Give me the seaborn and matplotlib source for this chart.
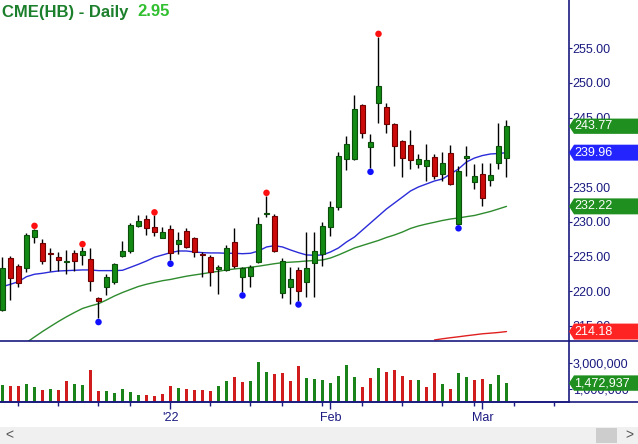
import numpy as np
import seaborn as sns
import matplotlib.pyplot as plt
import matplotlib.transforms as mtrans
import matplotlib.ticker as mticker
from matplotlib.patches import Polygon, Rectangle
from matplotlib.lines import Line2D

# daily candles, index 0 = 2 Dec 2021 ... 63 = 4 Mar 2022
opens = [217.29, 224.74, 223.63, 223.30, 227.85, 226.90, 225.45, 224.89, 224.20, 225.46,
         225.22, 224.60, 218.98, 220.65, 221.37, 225.12, 225.84, 229.44, 230.36, 229.21,
         227.71, 228.92, 226.76, 228.72, 227.62, 225.30, 224.89, 223.16, 223.06, 227.09,
         222.09, 222.23, 224.17, 231.15, 230.84, 219.70, 220.56, 223.06, 221.28, 224.02,
         225.36, 229.29, 232.18, 239.01, 239.01, 246.83, 240.82, 247.16, 246.50, 244.05,
         241.64, 241.02, 238.29, 238.08, 239.34, 236.85, 239.87, 229.68, 239.15, 235.78,
         236.85, 236.02, 238.43, 239.15]
highs = [224.97, 225.07, 223.92, 228.34, 228.96, 227.52, 226.18, 225.61, 225.94, 225.94,
         226.33, 226.18, 219.21, 222.48, 224.11, 227.28, 229.79, 230.98, 230.98, 230.91,
         229.29, 229.54, 228.57, 229.06, 227.85, 225.69, 225.22, 223.78, 226.66, 229.06,
         223.53, 223.78, 230.74, 233.72, 231.12, 224.74, 223.44, 223.44, 228.57, 228.57,
         230.02, 233.00, 240.10, 242.36, 248.27, 247.00, 242.65, 256.63, 247.08, 244.20,
         241.79, 243.23, 239.73, 241.21, 239.73, 240.06, 241.07, 238.08, 240.92, 238.33,
         238.43, 238.52, 244.19, 244.67]
lows = [217.15, 218.73, 220.56, 222.81, 226.99, 223.88, 222.96, 222.96, 222.48, 222.91,
        223.78, 220.07, 216.10, 219.45, 221.04, 224.89, 225.46, 229.30, 228.10, 228.00,
        227.60, 224.50, 225.36, 226.18, 224.89, 222.09, 220.75, 219.55, 222.95, 223.30,
        219.93, 220.65, 224.00, 230.65, 225.70, 218.98, 218.16, 218.63, 219.12, 219.12,
        223.63, 227.96, 231.70, 237.46, 238.90, 242.03, 237.75, 244.28, 242.84, 238.08,
        236.41, 237.61, 237.80, 235.92, 236.12, 235.88, 235.30, 229.61, 236.64, 234.73,
        232.28, 235.20, 237.61, 236.50]
closes = [223.30, 221.86, 221.14, 228.10, 228.82, 224.40, 225.30, 224.50, 224.30, 224.40,
          225.84, 221.51, 218.63, 222.00, 223.88, 225.79, 229.54, 230.12, 229.06, 228.57,
          228.49, 225.55, 227.38, 226.41, 225.69, 225.15, 222.72, 223.44, 226.18, 223.63,
          223.30, 223.44, 229.68, 231.30, 225.84, 224.35, 221.76, 220.07, 223.30, 225.79,
          229.44, 232.09, 239.48, 241.21, 246.21, 242.75, 241.46, 249.57, 244.05, 240.97,
          239.15, 238.91, 239.01, 238.86, 236.64, 238.43, 235.45, 237.32, 239.48, 236.60,
          233.47, 236.74, 240.92, 243.77]

# moving averages
ma_blue = [220.65, 221.00, 221.37, 222.09, 222.44, 222.58, 222.77, 222.91, 222.96, 223.01,
           223.06, 223.06, 222.96, 222.96, 222.96, 223.01, 223.44, 223.88, 224.35, 224.89,
           225.22, 225.55, 225.79, 225.79, 225.65, 225.55, 225.51, 225.51, 225.46, 225.46,
           225.40, 225.46, 225.79, 226.37, 226.56, 226.37, 225.94, 225.55, 225.22, 225.17,
           225.22, 225.65, 226.23, 227.09, 227.81, 228.82, 229.83, 230.84, 231.85, 232.71,
           233.57, 234.44, 235.02, 235.45, 235.88, 236.17, 236.89, 237.61, 238.62, 239.19,
           239.55, 239.77, 239.84, 239.96]
ma_green_start = 3
ma_green = [212.60, 213.40, 214.19, 214.92, 215.64, 216.31, 216.93, 217.51, 217.87, 218.19,
            218.73, 219.31, 219.81, 220.25, 220.68, 221.00, 221.26, 221.51, 221.69, 221.93,
            222.16, 222.34, 222.51, 222.70, 222.87, 223.06, 223.20, 223.32, 223.45, 223.60,
            223.78, 223.96, 224.11, 224.18, 224.25, 224.35, 224.42, 224.50, 224.78, 225.22,
            225.72, 226.23, 226.59, 226.95, 227.31, 227.74, 228.10, 228.53, 229.04, 229.40,
            229.68, 229.93, 230.19, 230.40, 230.55, 230.74, 230.91, 231.20, 231.49, 231.85,
            232.22]
ma_red_start = 54
ma_red = [212.97, 213.14, 213.29, 213.43, 213.58, 213.72, 213.86, 213.95, 214.05, 214.18]

swing_highs = [4, 10, 19, 33, 47]
swing_lows = [12, 21, 30, 37, 46, 57]

volumes = [1300000, 1230000, 1230000, 1380000, 1150000, 910000, 990000, 910000, 1620000, 1380000,
           1300000, 2480000, 830000, 830000, 680000, 990000, 760000, 520000, 520000, 440000,
           600000, 1230000, 1070000, 990000, 910000, 910000, 830000, 1230000, 1620000, 1930000,
           1540000, 1620000, 3100000, 2320000, 2170000, 2240000, 1620000, 2790000, 1850000, 1770000,
           1700000, 1460000, 2010000, 2870000, 1930000, 1150000, 1850000, 2630000, 2320000, 2480000,
           2010000, 1700000, 1700000, 1150000, 2240000, 1380000, 990000, 2240000, 1930000, 1700000,
           1770000, 1380000, 2090000, 1472937]
vol_up = "GRRGGRGRRGGRRGGGGGRRRRGRRRRGGRRGGGRRRRGGGGGGGRRGRRRRGRRGRGGRRGGG"

week_ticks = [2, 7, 12, 16, 21, 26, 31, 35, 40, 45, 50, 55, 59, 64, 69]
month_ticks = [21, 41, 60]
month_labels = ["'22", "Feb", "Mar"]

NAVY = "#1a1a80"
UP_FILL, UP_EDGE = "#138a13", "#0b4f0b"
DN_FILL, DN_EDGE = "#cc0a0a", "#6e0000"

sns.set_style("white")
plt.rcParams["font.family"] = ["Liberation Sans", "DejaVu Sans"]

W, H = 638, 444
fig = plt.figure(figsize=(W / 100, H / 100), dpi=100)
ax = fig.add_axes([0, (H - 341) / H, 569 / W, 341 / H])
axv = fig.add_axes([0, (H - 402) / H, 569 / W, 61 / H])

idx = np.arange(len(closes))
o, h, l, c = map(np.array, (opens, highs, lows, closes))
up = c >= o

# moving averages
sns.lineplot(x=idx, y=ma_blue, ax=ax, color="#2b2bd9", lw=1.0)
sns.lineplot(x=idx[ma_green_start:], y=ma_green, ax=ax, color="#2e8b2e", lw=1.0)
sns.lineplot(x=idx[ma_red_start:], y=ma_red, ax=ax, color="#e02020", lw=1.0)

# candles
ax.vlines(idx, l, h, color="black", lw=1.0, zorder=3)
body = np.maximum(np.abs(c - o), 0.12)
ax.bar(idx, body, bottom=np.minimum(o, c), width=0.72,
       color=np.where(up, UP_FILL, DN_FILL), edgecolor=np.where(up, UP_EDGE, DN_EDGE),
       lw=0.8, zorder=4)

# swing dots
sns.scatterplot(x=swing_highs, y=h[swing_highs] + 0.45, ax=ax, color="#ff1010",
                s=22, edgecolor="none", zorder=5)
sns.scatterplot(x=swing_lows, y=l[swing_lows] - 0.55, ax=ax, color="#1010ff",
                s=22, edgecolor="none", zorder=5)

xlim = (-0.3125, 70.8125)
ax.set_xlim(xlim)
ax.set_ylim(212.82, 261.96)
ax.set_xticks([])
ax.yaxis.tick_right()
ax.set_yticks(np.arange(215, 256, 5))
ax.yaxis.set_major_formatter(mticker.FormatStrFormatter("%.2f"))
ax.tick_params(axis="y", right=True, length=2.2, width=0.8, color=NAVY,
               labelcolor=NAVY, labelsize=9, pad=0.5)
for s in ["top", "left", "bottom"]:
    ax.spines[s].set_visible(False)
ax.spines["right"].set_color(NAVY)
ax.spines["right"].set_linewidth(1.2)

# volume panel
axv.bar(idx, volumes, width=0.34, lw=0,
        color=["#1a841a" if v == "G" else "#d01c1c" for v in vol_up])
axv.set_xlim(xlim)
axv.set_ylim(0, 4.75e6)
axv.yaxis.tick_right()
axv.set_yticks([1e6, 3e6])
axv.yaxis.set_major_formatter(mticker.FuncFormatter(lambda v, p: f"{int(v):,}"))
axv.tick_params(axis="y", right=True, length=2.2, width=0.8, color=NAVY,
                labelcolor=NAVY, labelsize=9, pad=0.5)
axv.set_xticks(month_ticks)
axv.set_xticklabels(month_labels)
axv.set_xticks([t for t in week_ticks if t not in month_ticks], minor=True)
axv.tick_params(axis="x", which="major", bottom=True, length=5, width=1, color=NAVY,
                labelcolor=NAVY, labelsize=9, pad=2)
axv.tick_params(axis="x", which="minor", bottom=True, length=3, width=1, color=NAVY)
for s in ["top", "left"]:
    axv.spines[s].set_visible(False)
for s in ["right", "bottom"]:
    axv.spines[s].set_color(NAVY)
    axv.spines[s].set_linewidth(1.2)

# full-width panel rules
for yy in (341, 402):
    fig.add_artist(Line2D([0, 1], [(H - yy) / H] * 2, transform=fig.transFigure,
                          color=NAVY, lw=1.2))


def tag(target, yv, half, text, color):
    tr = mtrans.blended_transform_factory(fig.transFigure, target.transData)
    x0, xn, x1 = 569 / W, 574 / W, 1.0
    fig.add_artist(Polygon([(x0, yv), (xn, yv + half), (x1, yv + half), (x1, yv - half),
                            (xn, yv - half)], closed=True, transform=tr, facecolor=color,
                           edgecolor="none", zorder=10))
    fig.text(574 / W, yv, text, transform=tr, color="white", fontsize=9,
             va="center", ha="left", zorder=11)


tag(ax, closes[-1], 1.1, f"{closes[-1]:.2f}", "#1f8f1f")
tag(ax, ma_blue[-1], 1.15, f"{ma_blue[-1]:.2f}", "#2424ff")
tag(ax, ma_green[-1], 1.15, f"{ma_green[-1]:.2f}", "#1f8f1f")
tag(ax, ma_red[-1], 1.15, f"{ma_red[-1]:.2f}", "#ff2424")
tag(axv, volumes[-1], 0.6e6, f"{volumes[-1]:,}", "#1f8f1f")

# title
fig.text(2 / W, (H - 12) / H, "CME(HB) - Daily", color="#1b7f2b", fontsize=12,
         fontweight="bold", va="center", ha="left")
fig.text(137 / W, (H - 12) / H, "2.95", color="#2fbf2f", fontsize=12,
         fontweight="bold", va="center", ha="left")

# scrollbar strip
fig.add_artist(Rectangle((0, 0), 1, 17 / H, transform=fig.transFigure,
                         facecolor="#f0f0f0", edgecolor="none"))
fig.add_artist(Rectangle((596 / W, 1 / H), 21 / W, 15 / H, transform=fig.transFigure,
                         facecolor="#cdcdcd", edgecolor="none"))
fig.text(9 / W, 8.5 / H, "<", color="#555555", fontsize=10, va="center", ha="center")
fig.text(629 / W, 8.5 / H, ">", color="#555555", fontsize=10, va="center", ha="center")

fig.savefig("out.png", dpi=100)
